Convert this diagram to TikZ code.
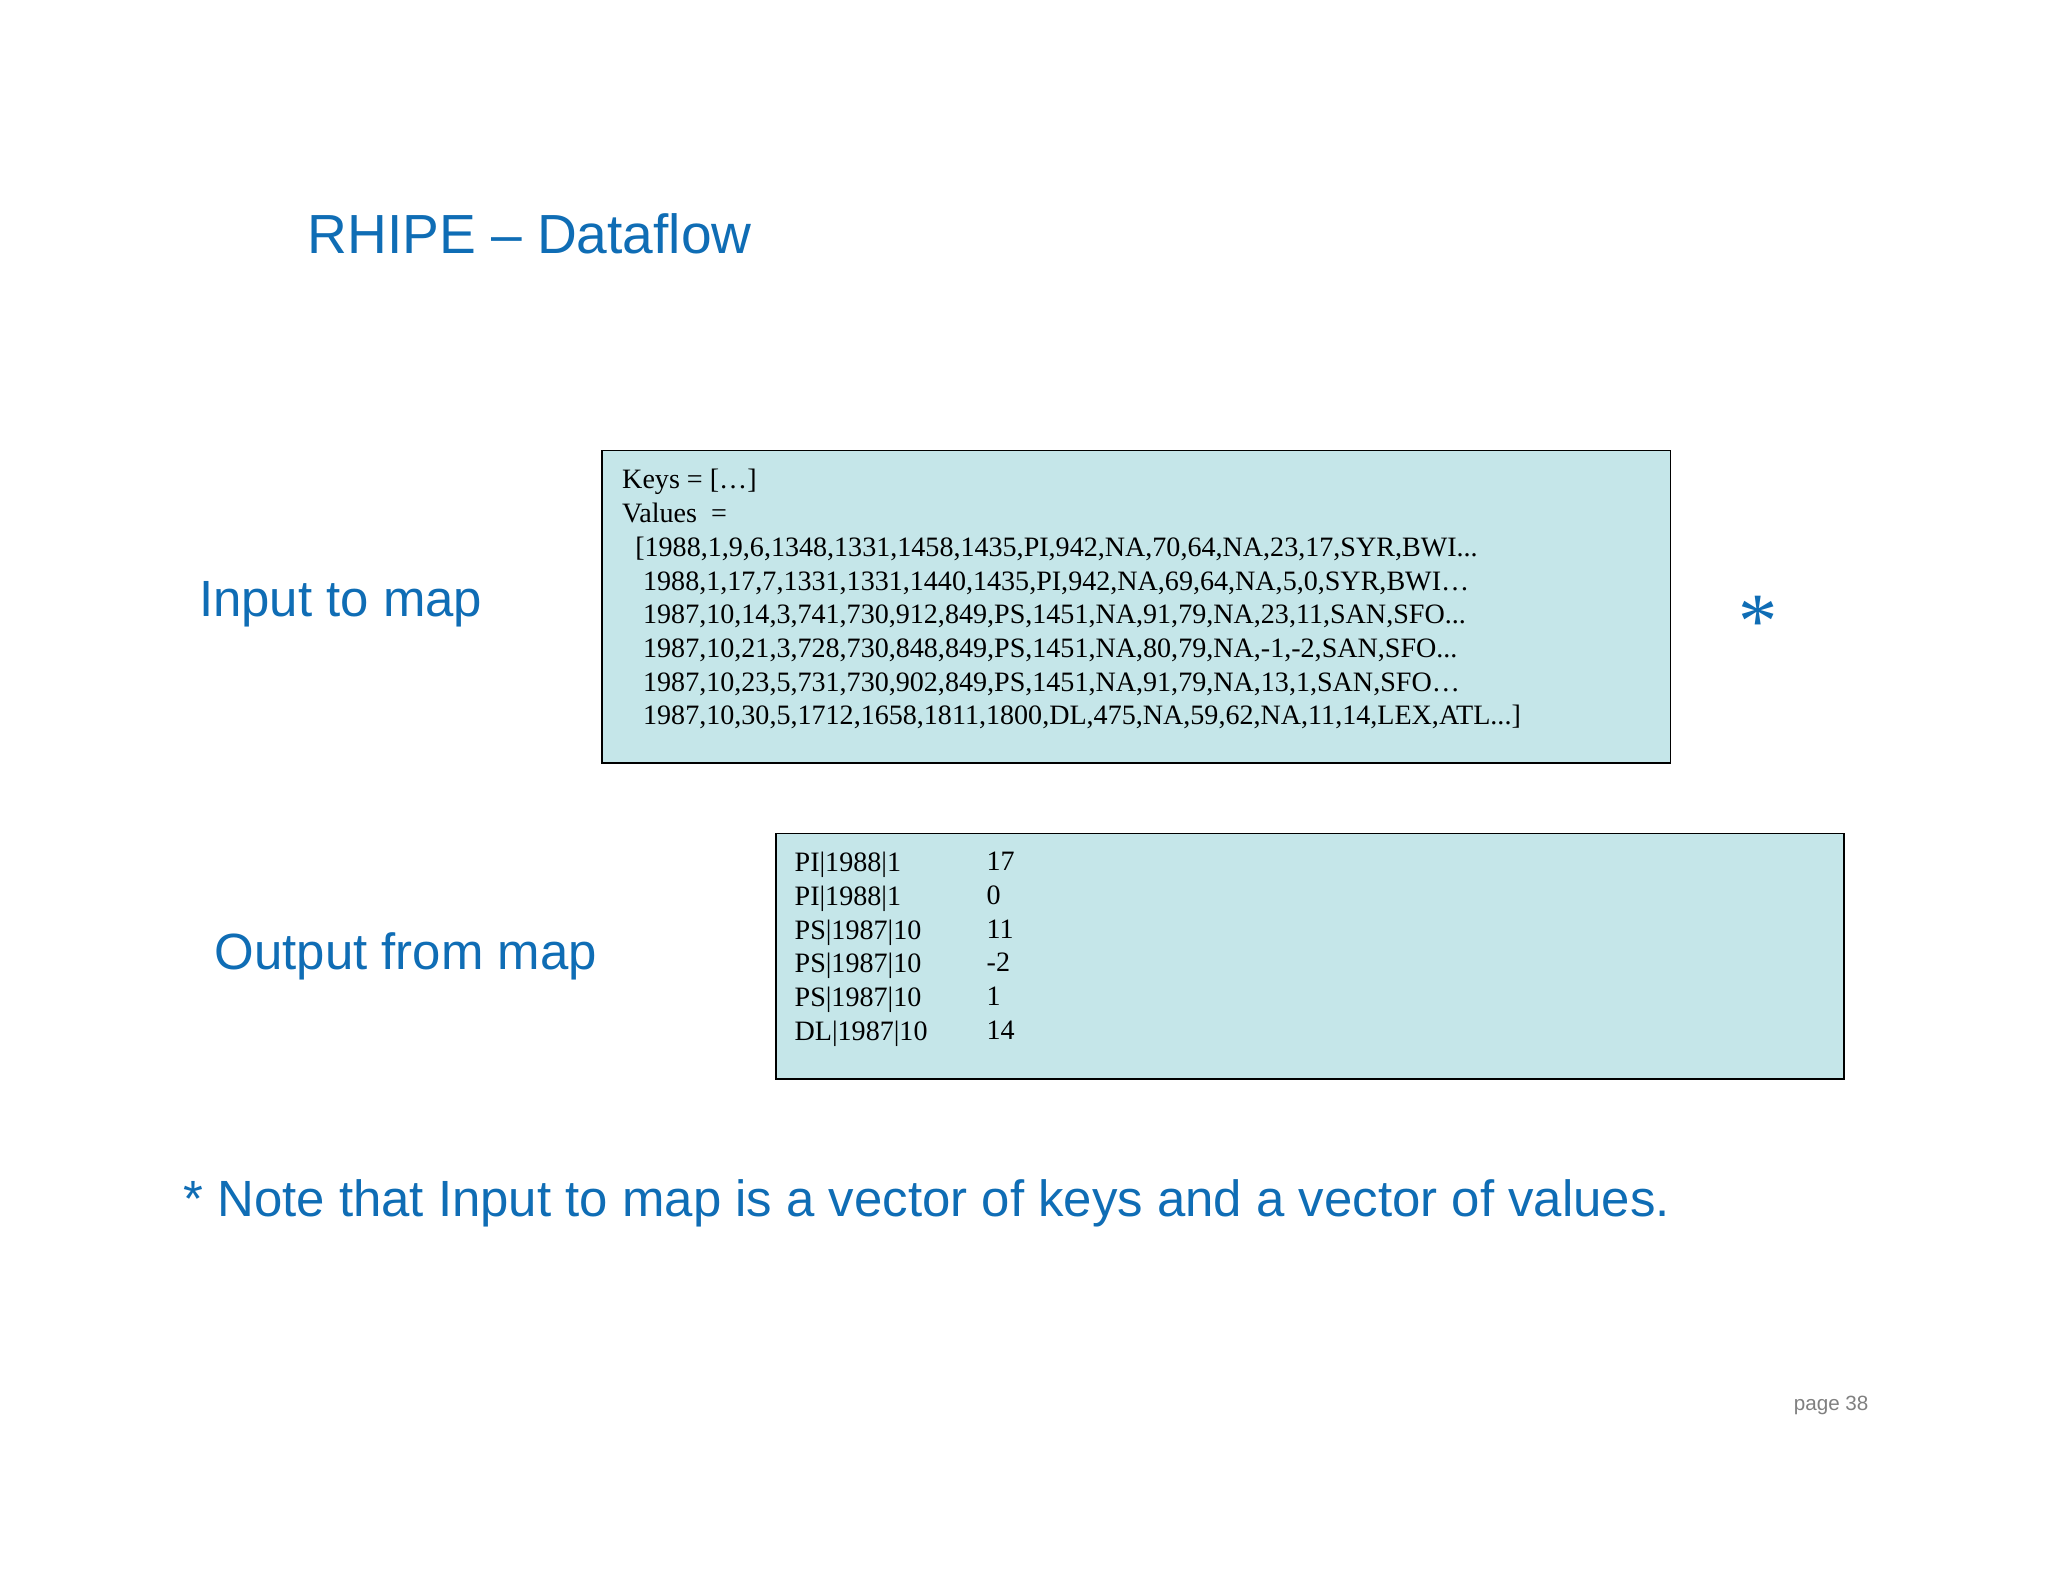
\documentclass[tikz,border=0pt]{standalone}
\usepackage{fontspec}
\setmainfont{Liberation Sans}
\newfontfamily\tms{Liberation Serif}
\definecolor{tblue}{HTML}{0F6DB5}
\definecolor{boxfill}{HTML}{C5E6E9}
\begin{document}
\begin{tikzpicture}[x=0.5pt,y=-0.5pt,
  lbl/.style={anchor=base west,inner sep=0,text=tblue,font=\fontsize{19.5}{23}\selectfont},
  databox/.style={draw=black,fill=boxfill,line width=0.6pt},
  boxtext/.style={anchor=north west,inner sep=0,align=left,font=\tms\fontsize{10.75}{12.9}\selectfont}]
\useasboundingbox[fill=white] (0,0) rectangle (1568,1211);
\node[lbl,font=\fontsize{21.1}{24}\selectfont] (title) at (235,194) {RHIPE – Dataflow};
\node[lbl] (in) at (152,472) {Input to map};
\node[lbl] (out) at (164,742) {Output from map};
\node[lbl] (note) at (140,931) {* Note that Input to map is a vector of keys and a vector of values.};
\node[anchor=base west,inner sep=0,text=gray,font=\fontsize{7.9}{9}\selectfont] (pg) at (1373,1080) {page 38};
\node[inner sep=0,text=tblue,font=\tms\fontsize{30}{30}\selectfont] (ast) at (1346,476) {*};
\draw[databox] (461,345) rectangle (1279,584);
\node[boxtext] (vals) at (476,359) {Keys = […]\\Values \ =\\
\hspace{5pt}[1988,1,9,6,1348,1331,1458,1435,PI,942,NA,70,64,NA,23,17,SYR,BWI...\\
\hspace{8pt}1988,1,17,7,1331,1331,1440,1435,PI,942,NA,69,64,NA,5,0,SYR,BWI…\\
\hspace{8pt}1987,10,14,3,741,730,912,849,PS,1451,NA,91,79,NA,23,11,SAN,SFO...\\
\hspace{8pt}1987,10,21,3,728,730,848,849,PS,1451,NA,80,79,NA,-1,-2,SAN,SFO...\\
\hspace{8pt}1987,10,23,5,731,730,902,849,PS,1451,NA,91,79,NA,13,1,SAN,SFO…\\
\hspace{8pt}1987,10,30,5,1712,1658,1811,1800,DL,475,NA,59,62,NA,11,14,LEX,ATL...]};
\draw[databox] (594,638) rectangle (1412,826);
\node[boxtext] (k) at (608,652) {PI|1988|1\\PI|1988|1\\PS|1987|10\\PS|1987|10\\PS|1987|10\\DL|1987|10};
\node[boxtext] (v) at (755,652) {17\\0\\11\\-2\\1\\14};
\end{tikzpicture}
\end{document}
